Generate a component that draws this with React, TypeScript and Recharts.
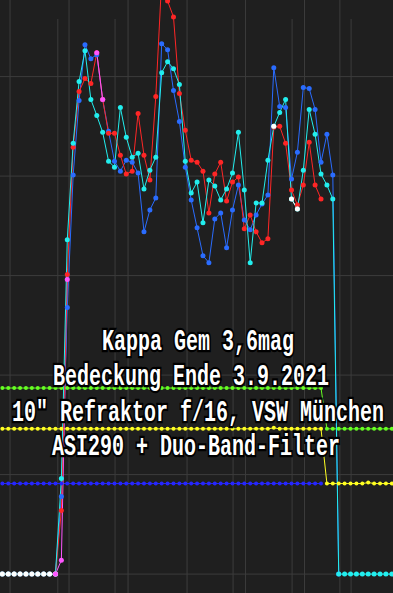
import React from "react"
import { LineChart, Line, XAxis, YAxis, CartesianGrid } from "recharts"

// frame index on x, signal level on y (0 = occulted baseline)
const frames = Array.from({ length: 67 }, (_, i) => i)

const cyanSeries = [
  0, 0, 0, 0, 0, 0, 0, 0, 0, 0,
  96, 336, 433, 495, 526, 477, 461, 444, 415, 409,
  469, 439, 419, 423, 387, 406, 419, 504, 515, 508,
  492, 415, 383, 394, 353, 396, 390, 376, 387, 403,
  444, 386, 313, 373, 373, 416, 450, 464, 477, 377,
  367, 406, 467, 442, 402, 391, 377, 0, 0, 0,
  0, 0, 0, 0, 0, 0, 0,
]

const redSeries = [
  0, 0, 0, 0, 0, 0, 0, 0, 0, 0,
  64, 301, 429, 485, 498, 493, 524, 477, 443, 443,
  421, 402, 405, 463, 421, 396, 480, 597, 576, 560,
  483, 446, 416, 414, 405, 363, 402, 414, 375, 394,
  399, 347, 361, 344, 333, 337, 449, 450, 433, 386,
  371, 391, 434, 391, 377, null, null, null, null, null,
  null, null, null, null, null, null, null,
]

const blueSeries = [
  0, 0, 0, 0, 0, 0, 0, 0, 0, 0,
  78, 268, 401, 476, 532, 518, 522, 477, 445, 415,
  405, 416, 414, 403, 344, 366, 378, 533, 527, 486,
  455, 409, 376, 348, 320, 313, 357, 363, 328, 366,
  391, 356, 346, 361, 372, 381, 509, 470, 469, 397,
  424, 489, 488, 467, 414, 442, 401, 0, null, null,
  null, null, null, null, null, null, null,
]

const whiteSeries = [
  0, 0, 0, 0, 0, 0, 0, 0, 0, 0,
  null, null, null, null, null, null, null, null, null, null,
  null, null, null, null, null, null, null, null, null, null,
  null, null, null, null, null, null, null, null, null, null,
  null, null, null, null, null, null, 450, null, null, 377,
  367, null, null, null, null, null, null, null, null, null,
  null, null, null, null, null, null, null,
]

// magenta run: lower part sits under the other curves, the peak pair on top
const magentaLowSeries = [
  null, null, null, null, null, null, null, null, null, 0,
  14, 296, null, null, null, null, null, null, null, null,
  null, null, null, null, null, null, null, null, null, null,
  null, null, null, null, null, null, null, null, null, null,
  null, null, null, null, null, null, null, null, null, null,
  null, null, null, null, null, null, null, null, null, null,
  null, null, null, null, null, null, null,
]

const magentaTopSeries = [
  null, null, null, null, null, null, null, null, null, 0,
  null, null, null, null, null, null, 524, 477, null, null,
  null, null, null, null, null, null, null, null, null, null,
  null, null, null, null, null, null, null, null, null, null,
  null, null, null, null, null, null, null, null, null, null,
  null, null, null, null, null, null, null, null, null, null,
  null, null, null, null, null, null, null,
]

const greenSeries = [
  187, 187, 187, 187, 187, 187, 187, 187, 187, 187,
  187, 187, 187, 187, 187, 187, 187, 187, 187, 187,
  187, 187, 187, 187, 187, 187, 187, 187, 187, 187,
  187, 187, 187, 187, 187, 187, 187, 187, 187, 187,
  187, 187, 187, 187, 187, 187, 187, 187, 187, 187,
  187, 187, 187, 187, 187, 146, 146, 146, 146, 146,
  146, 146, 146, 146, 146, 146, 146,
]

const yellowSeries = [
  146, 146, 146, 146, 146, 146, 146, 146, 146, 146,
  146, 146, 146, 146, 146, 146, 146, 146, 146, 146,
  146, 146, 146, 146, 146, 146, 146, 146, 146, 146,
  146, 146, 146, 146, 146, 146, 146, 146, 146, 146,
  146, 146, 146, 146, 146, 146, 147, 146, 146, 146,
  146, 146, 146, 146, 146, 91, 91, 91, 91, 91,
  91, 91, 92, 91, 91, 91, 91,
]

const navySeries = [
  91, 91, 91, 91, 91, 91, 91, 91, 91, 91,
  91, 91, 91, 91, 91, 91, 91, 91, 91, 91,
  91, 91, 91, 91, 91, 91, 91, 91, 91, 91,
  91, 91, 91, 91, 91, 91, 91, 91, 91, 91,
  91, 91, 91, 91, 91, 91, 91, 91, 91, 91,
  91, 91, 91, 91, 91, null, null, null, null, null,
  null, null, null, null, null, null, null,
]

const yGrid = [0, 100, 200, 300, 400, 500]
const xGridFull = [1.3, 7.3, 11.3, 17.3, 21.3, 27.2, 31.3, 37.3, 41.2, 47.2, 51.2, 54.0, 57.2]
const xGridShort = [9.4, 19.1, 39.1, 49.1, 59.1]

const captionLines = [
  "Kappa Gem 3,6mag",
  "Bedeckung Ende 3.9.2021",
  "10\" Refraktor f/16, VSW München",
  "ASI290 + Duo-Band-Filter",
]

const data = frames.map((f, i) => ({
  frame: f,
  cyan: cyanSeries[i],
  red: redSeries[i],
  blue: blueSeries[i],
  white: whiteSeries[i],
  magentaLow: magentaLowSeries[i],
  magentaTop: magentaTopSeries[i],
  green: greenSeries[i],
  yellow: yellowSeries[i],
  navy: navySeries[i],
}))

const series = [
  { key: "green", color: "#66ff22", r: 2 },
  { key: "yellow", color: "#ffff22", r: 2 },
  { key: "navy", color: "#2626ff", r: 2 },
  { key: "magentaLow", color: "#ff55ff", r: 2.5 },
  { key: "blue", color: "#2a6cff", r: 2.5 },
  { key: "red", color: "#ff2626", r: 2.5 },
  { key: "cyan", color: "#22eeee", r: 2.5 },
  { key: "white", color: "#ffffff", r: 2.5 },
  { key: "magentaTop", color: "#ff55ff", r: 2.5 },
]

const captionPos = [
  { x: 102, y: 350 },
  { x: 53, y: 385 },
  { x: 12, y: 421 },
  { x: 52, y: 455 },
]

export default function App() {
  return (
    <div style={{ position: "absolute", left: 0, top: 0, width: 393, height: 593, background: "#1f1f1f" }}>
      <LineChart width={393} height={593} data={data} margin={{ top: 0, right: 0, bottom: 0, left: 0 }}>
        <CartesianGrid
          stroke="#3c3c3c"
          horizontalValues={yGrid}
          verticalValues={xGridFull}
        />
        <CartesianGrid stroke="#3c3c3c" horizontal={false} verticalValues={xGridShort} y={19} height={574} />
        <XAxis type="number" dataKey="frame" domain={[-0.4, 66.2]} hide allowDataOverflow />
        <YAxis type="number" domain={[-19, 577]} hide allowDataOverflow />
        {series.map((s) => (
          <Line
            key={s.key}
            type="linear"
            dataKey={s.key}
            stroke={s.color}
            strokeWidth={1}
            dot={{ r: s.r, fill: s.color, stroke: s.color, strokeWidth: 0 }}
            activeDot={false}
            isAnimationActive={false}
          />
        ))}
      </LineChart>
      <svg width={393} height={593} style={{ position: "absolute", left: 0, top: 0, pointerEvents: "none" }}>
        {captionLines.map((t, i) => (
          <text
            key={i}
            transform={`translate(${captionPos[i].x} ${captionPos[i].y}) scale(1 1.5)`}
            fontFamily="Liberation Mono, monospace"
            fontWeight="bold"
            fontSize={20}
            fill="#ffffff"
            stroke="#000000"
            strokeWidth={3}
            paintOrder="stroke"
            style={{ whiteSpace: "pre" }}
          >
            {t}
          </text>
        ))}
      </svg>
    </div>
  )
}
